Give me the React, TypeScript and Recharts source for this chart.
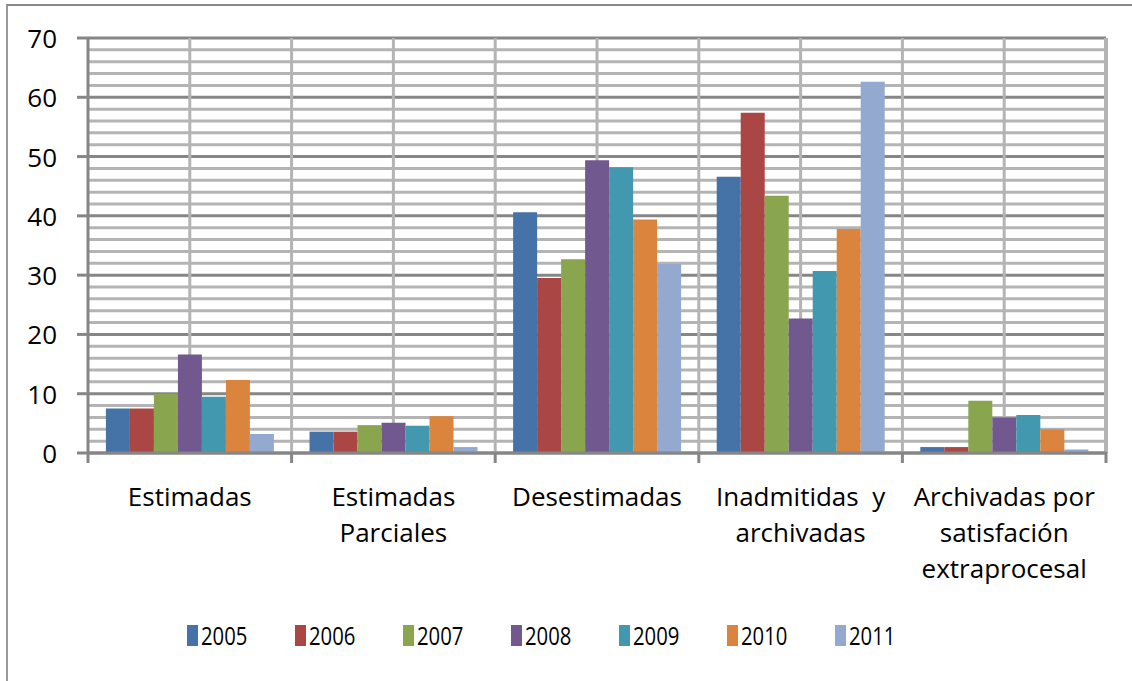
import React from 'react';
import { BarChart, Bar, XAxis, YAxis, CartesianGrid, Legend } from 'recharts';

const categories = [
  'Estimadas',
  'Estimadas\nParciales',
  'Desestimadas',
  'Inadmitidas  y\narchivadas',
  'Archivadas por\nsatisfación\nextraprocesal',
];

const years = ['2005', '2006', '2007', '2008', '2009', '2010', '2011'];
const colors = ['#4572A7', '#AA4643', '#89A54E', '#71588F', '#4198AF', '#DB843D', '#93A9CF'];

// one array per year, in category order
const v2005 = [7.5, 3.6, 40.6, 46.6, 1.0];
const v2006 = [7.5, 3.6, 29.5, 57.4, 1.0];
const v2007 = [10.0, 4.7, 32.7, 43.4, 8.8];
const v2008 = [16.6, 5.1, 49.4, 22.7, 6.0];
const v2009 = [9.5, 4.6, 48.2, 30.7, 6.4];
const v2010 = [12.3, 6.2, 39.4, 37.8, 4.0];
const v2011 = [3.2, 1.0, 31.9, 62.6, 0.6];

// y ticks every 2, labels only on the 10s
const yTicks = Array.from({ length: 36 }, (_, i) => i * 2);

const series = [v2005, v2006, v2007, v2008, v2009, v2010, v2011];
const data = categories.map((name, i) => {
  const row: Record<string, string | number> = { name };
  years.forEach((y, k) => {
    row[y] = series[k][i];
  });
  return row;
});

const FONT = '"Open Sans", sans-serif';
const MAJOR = '#868686';
const MINOR = '#b4b4b4';

const YTick = (props: any) => {
  const { x, y, payload } = props;
  if (payload.value % 10 !== 0) return <g />;
  return (
    <g>
      <line x1={x + 20} x2={x + 31} y1={y} y2={y} stroke={MAJOR} strokeWidth={3} />
      <text x={x} y={y} textAnchor="end" dominantBaseline="central" fontFamily={FONT} fontSize={26} fill="#000">
        {payload.value}
      </text>
    </g>
  );
};

const XTick = (props: any) => {
  const { x, y, payload, index, visibleTicksCount, width } = props;
  const band = width / visibleTicksCount;
  const lines = String(payload.value).split('\n');
  const left = x - band / 2;
  const right = x + band / 2;
  return (
    <g>
      <line x1={left} x2={left} y1={y - 11} y2={y} stroke={MAJOR} strokeWidth={3} />
      {index === visibleTicksCount - 1 && (
        <line x1={right} x2={right} y1={y - 11} y2={y} stroke={MAJOR} strokeWidth={3} />
      )}
      <text x={x} y={y} textAnchor="middle" fontFamily={FONT} fontSize={26} fill="#000">
        {lines.map((l, i) => (
          <tspan key={i} x={x} dy={i === 0 ? 43 : 36} style={{ whiteSpace: 'pre' }}>
            {l}
          </tspan>
        ))}
      </text>
    </g>
  );
};

const hLine = (p: any) => {
  const major = yTicks[p.index] % 10 === 0;
  return <line key={'h' + p.index} x1={p.x1} x2={p.x2} y1={p.y1} y2={p.y2} stroke={major ? MAJOR : MINOR} strokeWidth={3} />;
};

const vLine = (p: any) => {
  const band = p.width / categories.length;
  const last = p.index === categories.length - 1;
  return (
    <g key={'v' + p.index}>
      <line x1={p.x1} x2={p.x2} y1={p.y1} y2={p.y2} stroke={MINOR} strokeWidth={3} />
      {p.index > 0 && (
        <line x1={p.x1 - band / 2} x2={p.x1 - band / 2} y1={p.y1} y2={p.y2} stroke={MINOR} strokeWidth={3} />
      )}
      {last && (
        <line x1={p.x1 + band / 2} x2={p.x1 + band / 2} y1={p.y1} y2={p.y2} stroke={MINOR} strokeWidth={4} />
      )}
    </g>
  );
};

const renderLegend = () => (
  <div style={{ display: 'flex', justifyContent: 'center', height: 40, alignItems: 'center', paddingLeft: 24 }}>
    {years.map((y, i) => (
      <div key={y} style={{ display: 'flex', alignItems: 'center', width: 108 }}>
        <span style={{ display: 'inline-block', width: 11, height: 21, background: colors[i], marginRight: 3 }} />
        <span
          style={{
            display: 'inline-block',
            fontFamily: FONT,
            fontSize: 26,
            color: '#000',
            transform: 'scaleX(0.78)',
            transformOrigin: 'left center',
            lineHeight: '26px',
          }}
        >
          {y}
        </span>
      </div>
    ))}
  </div>
);

export default function App() {
  return (
    <div style={{ position: 'absolute', left: 0, top: 0, width: 1132, height: 681, background: '#fff' }}>
      <div
        style={{
          position: 'absolute',
          left: 6,
          top: 4,
          right: 0,
          bottom: 0,
          borderTop: '2px solid #8a8a8a',
          borderLeft: '2px solid #9a9a9a',
        }}
      />
      <BarChart
        width={1132}
        height={681}
        data={data}
        margin={{ top: 38, right: 26, left: 0, bottom: 26 }}
        barCategoryGap="8.8%"
        barGap={0}
      >
        <CartesianGrid syncWithTicks horizontal={hLine} vertical={vLine} />
        <XAxis
          dataKey="name"
          height={162}
          interval={0}
          tickLine={false}
          tickSize={10}
          tickMargin={0}
          axisLine={{ stroke: MAJOR, strokeWidth: 3 }}
          tick={<XTick />}
        />
        <YAxis
          width={88}
          domain={[0, 70]}
          ticks={yTicks}
          interval={0}
          tickLine={false}
          tickSize={10}
          tickMargin={21}
          axisLine={{ stroke: MAJOR, strokeWidth: 3 }}
          tick={<YTick />}
        />
        <Legend verticalAlign="bottom" content={renderLegend} />
        {years.map((y, i) => (
          <Bar key={y} dataKey={y} fill={colors[i]} isAnimationActive={false} />
        ))}
      </BarChart>
    </div>
  );
}
